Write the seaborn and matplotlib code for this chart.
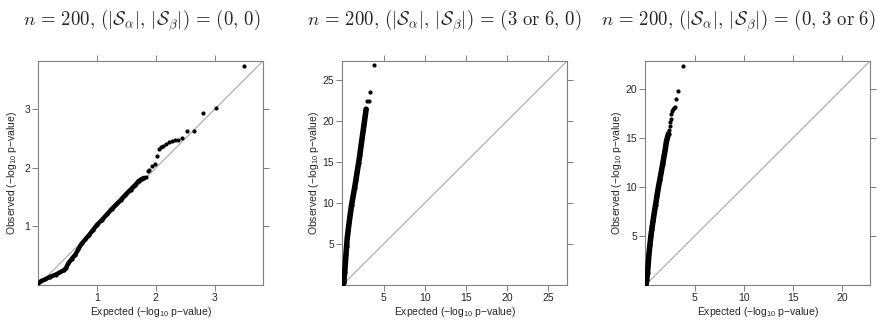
import numpy as np
import pandas as pd
import matplotlib.pyplot as plt
import seaborn as sns

titles = [
    r"$n \,=\, 200,\, (|\mathcal{S}_\alpha|,\, |\mathcal{S}_\beta|) \,=\, (0,\, 0)$",
    r"$n \,=\, 200,\, (|\mathcal{S}_\alpha|,\, |\mathcal{S}_\beta|) \,=\, (3\ \mathrm{or}\ 6,\, 0)$",
    r"$n \,=\, 200,\, (|\mathcal{S}_\alpha|,\, |\mathcal{S}_\beta|) \,=\, (0,\, 3\ \mathrm{or}\ 6)$",
]
axis_max = [3.83, 27.3, 22.9]
tick_values = [[1, 2, 3], [5, 10, 15, 20, 25], [5, 10, 15, 20]]

# panel 1: null case, dense body of the QQ curve + sparse upper tail
p1_exp_dense = [0.0, 0.05, 0.12, 0.20, 0.30, 0.43, 0.47, 0.51, 0.57, 0.63, 0.68, 0.74,
                0.80, 0.86, 0.93, 1.00, 1.08, 1.17, 1.25, 1.33, 1.40, 1.48, 1.57,
                1.65, 1.71, 1.76, 1.80]
p1_obs_dense = [0.03, 0.07, 0.10, 0.14, 0.18, 0.25, 0.29, 0.37, 0.45, 0.52, 0.61, 0.71,
                0.78, 0.85, 0.94, 1.03, 1.11, 1.21, 1.30, 1.38, 1.45, 1.54, 1.63,
                1.71, 1.78, 1.81, 1.83]
p1_exp_tail = [1.83, 1.86, 1.89, 1.94, 1.98, 2.02, 2.05, 2.09, 2.13, 2.17, 2.22, 2.27,
               2.33, 2.37, 2.44, 2.53, 2.65, 2.80, 3.02, 3.50]
p1_obs_tail = [1.84, 1.94, 1.96, 2.04, 2.07, 2.21, 2.32, 2.35, 2.37, 2.40, 2.45, 2.46,
               2.47, 2.47, 2.51, 2.63, 2.63, 2.94, 3.02, 3.74]

# panel 2
p2_exp_dense = [0.10, 0.18, 0.27, 0.35, 0.42, 0.50, 0.58, 0.70, 0.82, 0.96, 1.11, 1.29,
                1.47, 1.63, 1.79, 1.95, 2.11, 2.25, 2.39, 2.53, 2.67, 2.78, 2.87]
p2_obs_dense = [0.0, 0.4, 1.6, 2.6, 3.66, 4.7, 5.7, 6.7, 7.7, 8.7, 9.76, 10.8,
                11.8, 12.8, 13.8, 14.8, 15.85, 16.9, 17.9, 18.9, 19.9, 20.7, 21.4]
p2_exp_tail = [3.00, 3.20, 3.40, 3.88]
p2_obs_tail = [22.45, 22.45, 23.45, 26.8]

# panel 3
p3_exp_dense = [0.05, 0.12, 0.21, 0.28, 0.35, 0.45, 0.55, 0.65, 0.76, 0.89, 1.03, 1.16,
                1.30, 1.45, 1.61, 1.76, 1.91, 2.02, 2.12, 2.22, 2.35]
p3_obs_dense = [0.0, 0.5, 1.28, 2.2, 3.14, 4.1, 5.0, 5.75, 6.5, 7.35, 8.2, 9.05,
                9.9, 10.7, 11.57, 12.4, 13.26, 13.9, 14.6, 15.0, 15.45]
p3_exp_tail = [2.40, 2.45, 2.50, 2.55, 2.62, 2.70, 2.80, 2.93, 3.00, 3.10, 3.34, 3.81]
p3_obs_tail = [15.8, 16.2, 16.6, 16.9, 17.5, 17.8, 17.95, 18.05, 18.15, 19.0, 19.84, 22.37]

dense = [(p1_exp_dense, p1_obs_dense), (p2_exp_dense, p2_obs_dense), (p3_exp_dense, p3_obs_dense)]
tails = [(p1_exp_tail, p1_obs_tail), (p2_exp_tail, p2_obs_tail), (p3_exp_tail, p3_obs_tail)]

sns.set_style("white")
plt.rcParams["font.family"] = ["Liberation Sans", "DejaVu Sans"]
plt.rcParams["mathtext.fontset"] = "custom"
plt.rcParams["mathtext.rm"] = "Liberation Sans"
plt.rcParams["mathtext.it"] = "Liberation Sans:italic"
plt.rcParams["mathtext.bf"] = "Liberation Sans:bold"

fig = plt.figure(figsize=(8.84, 3.21), dpi=100)
lefts = [0.0434, 0.3874, 0.7302]
title_x = [0.160, 0.503, 0.835]
ylabel_x = [-0.084, -0.094, -0.097]
line_widths = [3.2, 4.0, 4.0]
frame_col = "#808080"

for i in range(3):
    ax = fig.add_axes([lefts[i], 0.112, 0.2545, 0.699])
    d = pd.DataFrame({"expected": dense[i][0], "observed": dense[i][1]})
    t = pd.DataFrame({"expected": tails[i][0], "observed": tails[i][1]})

    ax.axline((0, 0), slope=1, color="#a8a8a8", lw=0.8, zorder=1)
    sns.lineplot(data=d, x="expected", y="observed", ax=ax, color="black",
                 lw=line_widths[i], estimator=None, sort=False,
                 solid_capstyle="round", solid_joinstyle="round", zorder=3)
    sns.scatterplot(data=pd.concat([d, t]), x="expected", y="observed", ax=ax,
                    color="black", s=9, linewidth=0, zorder=4)

    ax.set_xlim(0, axis_max[i])
    ax.set_ylim(0, axis_max[i])
    ax.set_xticks(tick_values[i])
    ax.set_yticks(tick_values[i])
    ax.tick_params(direction="out", top=True, right=True, bottom=True, left=True,
                   labeltop=False, labelright=False, length=4, width=0.7,
                   color=frame_col, labelsize=7.5, pad=2)
    for sp in ax.spines.values():
        sp.set_color(frame_col)
        sp.set_linewidth(0.8)
    ax.set_xlabel("Expected (\u2212log$_{10}$ p\u2212value)", fontsize=7.5)
    ax.set_ylabel("Observed (\u2212log$_{10}$ p\u2212value)", fontsize=7.5)
    ax.xaxis.set_label_coords(0.5, -0.09)
    ax.yaxis.set_label_coords(ylabel_x[i], 0.5)

    fig.text(title_x[i], 0.935, titles[i], ha="center", va="center",
             fontsize=13.5, math_fontfamily="cm")

fig.savefig("out.png", dpi=100)
